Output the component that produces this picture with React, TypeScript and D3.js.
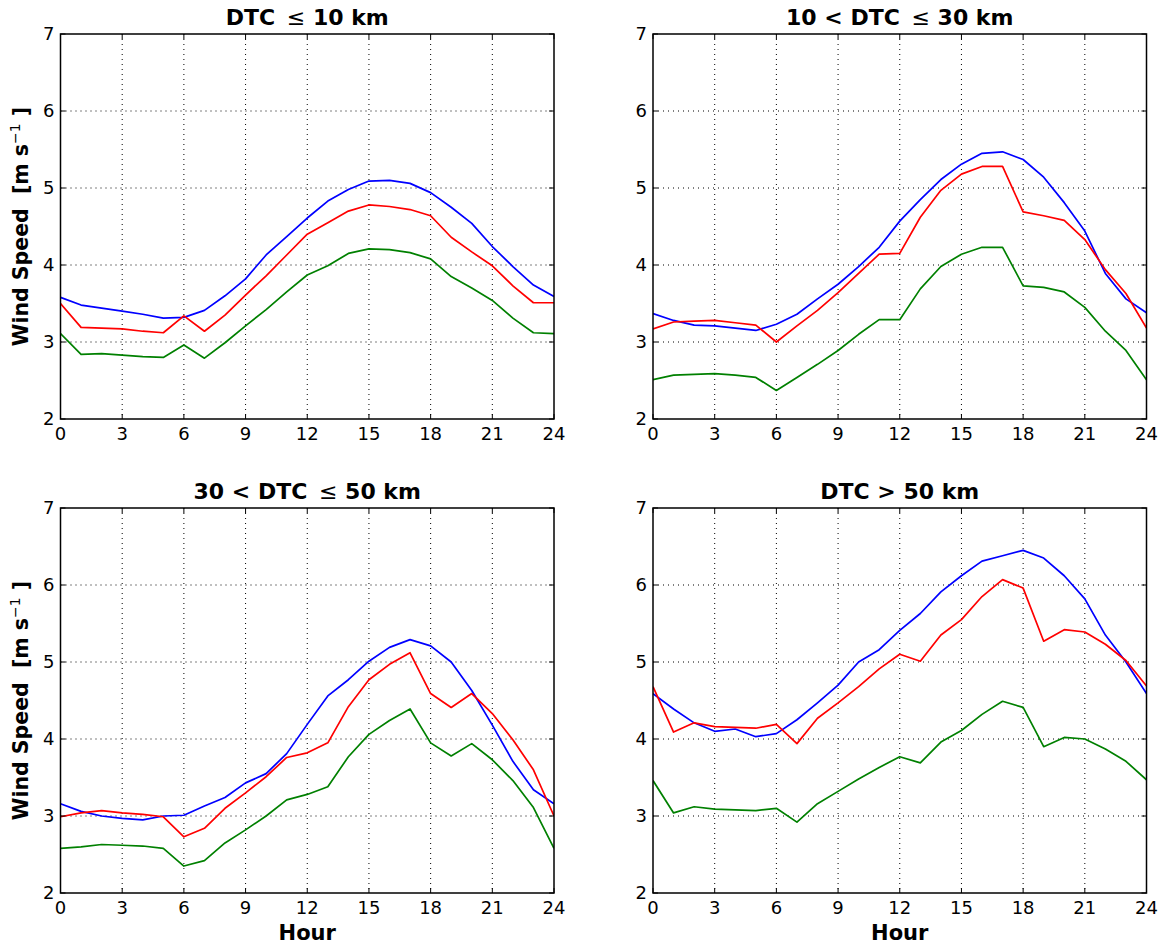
import React from "react";
import * as d3 from "d3";

// Hours of the day (0–24) shared by every panel
const hours = d3.range(0, 25);

// Panel titles (distance to coast bins)
const panelTitles = [
  ["DTC ", "≤", " 10 km"],
  ["10 < DTC ", "≤", " 30 km"],
  ["30 < DTC ", "≤", " 50 km"],
  ["DTC > 50 km", "", ""],
];

// Blue series per panel
const blueSeries = [
  [3.58, 3.48, 3.44, 3.40, 3.36, 3.31, 3.32, 3.41, 3.60, 3.82, 4.13, 4.37, 4.61, 4.83, 4.98, 5.09, 5.10, 5.06, 4.94, 4.75, 4.54, 4.24, 3.98, 3.74, 3.59],
  [3.37, 3.28, 3.22, 3.21, 3.18, 3.15, 3.23, 3.36, 3.56, 3.75, 3.98, 4.23, 4.57, 4.85, 5.11, 5.31, 5.45, 5.47, 5.37, 5.14, 4.81, 4.44, 3.89, 3.56, 3.38],
  [3.16, 3.06, 3.00, 2.97, 2.95, 3.00, 3.01, 3.13, 3.24, 3.43, 3.55, 3.81, 4.19, 4.56, 4.77, 5.01, 5.19, 5.29, 5.21, 5.00, 4.63, 4.18, 3.71, 3.34, 3.16],
  [4.59, 4.39, 4.21, 4.10, 4.13, 4.03, 4.07, 4.25, 4.47, 4.70, 5.00, 5.16, 5.41, 5.63, 5.91, 6.12, 6.31, 6.38, 6.45, 6.35, 6.12, 5.82, 5.35, 5.00, 4.59],
];

// Red series per panel
const redSeries = [
  [3.50, 3.19, 3.18, 3.17, 3.14, 3.12, 3.34, 3.14, 3.35, 3.61, 3.86, 4.13, 4.40, 4.55, 4.70, 4.78, 4.76, 4.72, 4.64, 4.36, 4.17, 3.99, 3.73, 3.51, 3.51],
  [3.17, 3.26, 3.27, 3.28, 3.25, 3.22, 3.00, 3.21, 3.41, 3.64, 3.89, 4.14, 4.15, 4.62, 4.97, 5.18, 5.28, 5.28, 4.69, 4.64, 4.58, 4.33, 3.94, 3.63, 3.18],
  [2.99, 3.04, 3.07, 3.04, 3.02, 2.99, 2.73, 2.84, 3.10, 3.30, 3.51, 3.76, 3.82, 3.95, 4.42, 4.77, 4.97, 5.12, 4.59, 4.41, 4.59, 4.33, 3.99, 3.60, 3.00],
  [4.68, 4.09, 4.21, 4.16, 4.15, 4.14, 4.19, 3.94, 4.27, 4.47, 4.68, 4.91, 5.10, 5.01, 5.35, 5.55, 5.85, 6.07, 5.96, 5.27, 5.42, 5.39, 5.23, 5.02, 4.69],
];

// Green series per panel
const greenSeries = [
  [3.11, 2.84, 2.85, 2.83, 2.81, 2.80, 2.96, 2.79, 2.99, 3.21, 3.42, 3.65, 3.87, 3.99, 4.15, 4.21, 4.20, 4.16, 4.08, 3.85, 3.70, 3.54, 3.31, 3.12, 3.11],
  [2.51, 2.57, 2.58, 2.59, 2.57, 2.54, 2.37, 2.54, 2.71, 2.89, 3.10, 3.29, 3.29, 3.69, 3.98, 4.14, 4.23, 4.23, 3.73, 3.71, 3.65, 3.45, 3.14, 2.89, 2.51],
  [2.58, 2.60, 2.63, 2.62, 2.61, 2.58, 2.35, 2.42, 2.65, 2.82, 3.00, 3.21, 3.28, 3.38, 3.77, 4.06, 4.24, 4.39, 3.95, 3.78, 3.94, 3.73, 3.46, 3.11, 2.58],
  [3.46, 3.04, 3.12, 3.09, 3.08, 3.07, 3.10, 2.92, 3.16, 3.32, 3.48, 3.63, 3.77, 3.69, 3.96, 4.11, 4.32, 4.49, 4.41, 3.90, 4.02, 4.00, 3.87, 3.71, 3.47],
];

const seriesColors = ["#0000ff", "#ff0000", "#008000"];

const xTicks = [0, 3, 6, 9, 12, 15, 18, 21, 24];
const yTicks = [2, 3, 4, 5, 6, 7];

const FONT = "'DejaVu Sans', sans-serif";
const W = 1168;
const H = 945;

// Panel geometry
const colLeft = [60.5, 653];
const rowTop = [34, 508];
const plotW = 493.5;
const plotH = 385;

function Panel({ idx }: { idx: number }) {
  const col = idx % 2;
  const row = Math.floor(idx / 2);
  const x0 = colLeft[col];
  const y0 = rowTop[row];
  const x = d3.scaleLinear().domain([0, 24]).range([x0, x0 + plotW]);
  const y = d3.scaleLinear().domain([2, 7]).range([y0 + plotH, y0]);
  const line = d3
    .line<number>()
    .x((_, i) => x(hours[i]))
    .y((v) => y(v));
  const series = [blueSeries[idx], redSeries[idx], greenSeries[idx]];
  const title = panelTitles[idx];
  const tick = 5;

  return (
    <g>
      {/* dotted grid */}
      {xTicks.slice(1, -1).map((t) => (
        <line key={"gx" + t} x1={x(t)} x2={x(t)} y1={y0} y2={y0 + plotH} stroke="#000" strokeWidth={1} strokeDasharray="1,4" />
      ))}
      {yTicks.slice(1, -1).map((t) => (
        <line key={"gy" + t} x1={x0} x2={x0 + plotW} y1={y(t)} y2={y(t)} stroke="#000" strokeWidth={1} strokeDasharray="1,4" />
      ))}
      {/* data lines */}
      <g clipPath={`url(#clip${idx})`}>
        {series.map((s, i) => (
          <path key={i} d={line(s) || ""} fill="none" stroke={seriesColors[i]} strokeWidth={1.7} strokeLinejoin="round" />
        ))}
      </g>
      {/* inward ticks on all sides */}
      {xTicks.map((t) => (
        <g key={"tx" + t}>
          <line x1={x(t)} x2={x(t)} y1={y0 + plotH} y2={y0 + plotH - tick} stroke="#000" strokeWidth={1} />
          <line x1={x(t)} x2={x(t)} y1={y0} y2={y0 + tick} stroke="#000" strokeWidth={1} />
          <text x={x(t)} y={y0 + plotH + 21} textAnchor="middle" fontFamily={FONT} fontSize={18}>{t}</text>
        </g>
      ))}
      {yTicks.map((t) => (
        <g key={"ty" + t}>
          <line x1={x0} x2={x0 + tick} y1={y(t)} y2={y(t)} stroke="#000" strokeWidth={1} />
          <line x1={x0 + plotW} x2={x0 + plotW - tick} y1={y(t)} y2={y(t)} stroke="#000" strokeWidth={1} />
          <text x={x0 - 6} y={y(t) + 6} textAnchor="end" fontFamily={FONT} fontSize={18}>{t}</text>
        </g>
      ))}
      {/* frame */}
      <rect x={x0} y={y0} width={plotW} height={plotH} fill="none" stroke="#000" strokeWidth={1.5} />
      {/* title */}
      <text x={x0 + plotW / 2} y={y0 - 9} textAnchor="middle" fontFamily={FONT} fontSize={22} fontWeight="bold" style={{ whiteSpace: "pre" }}>
        <tspan>{title[0]}</tspan>
        {title[1] && <tspan fontWeight="normal" dx={4}>{title[1]}</tspan>}
        {title[2] && <tspan>{title[2]}</tspan>}
      </text>
      {/* axis labels */}
      {col === 0 && (
        <text transform={`translate(28, ${y0 + plotH / 2}) rotate(-90)`} textAnchor="middle" fontFamily={FONT} fontSize={20.5} fontWeight="bold" style={{ whiteSpace: "pre" }}>
          <tspan>Wind Speed  [m s</tspan>
          <tspan fontWeight="normal" fontSize={14} dy={-8}>−1</tspan>
          <tspan dy={8}> ]</tspan>
        </text>
      )}
      {row === 1 && (
        <text x={x0 + plotW / 2} y={y0 + plotH + 47} textAnchor="middle" fontFamily={FONT} fontSize={21} fontWeight="bold">Hour</text>
      )}
    </g>
  );
}

export default function App() {
  return (
    <svg width={W} height={H} style={{ position: "absolute", left: 0, top: 0, background: "#fff" }}>
      <defs>
        {[0, 1, 2, 3].map((i) => (
          <clipPath id={`clip${i}`} key={i}>
            <rect x={colLeft[i % 2]} y={rowTop[Math.floor(i / 2)]} width={plotW} height={plotH} />
          </clipPath>
        ))}
      </defs>
      <rect width={W} height={H} fill="#fff" />
      {[0, 1, 2, 3].map((i) => (
        <Panel key={i} idx={i} />
      ))}
    </svg>
  );
}
